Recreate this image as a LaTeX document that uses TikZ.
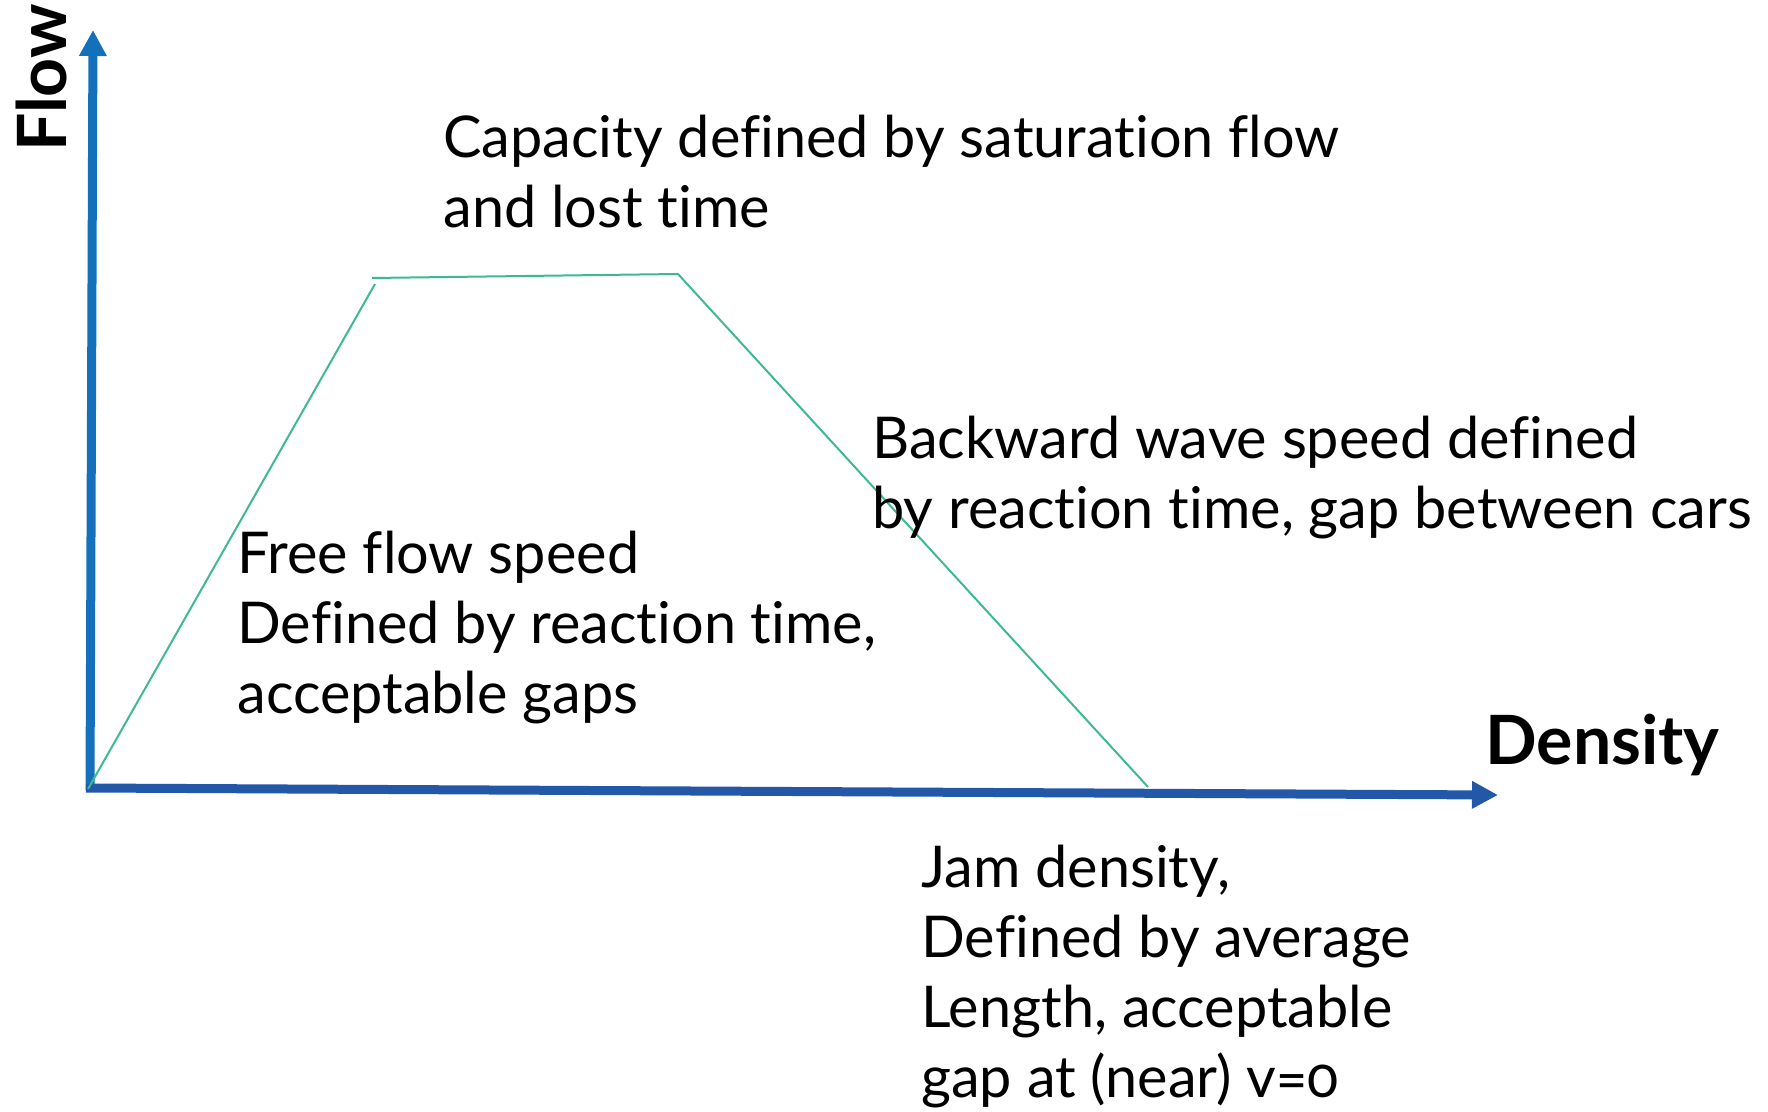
\documentclass[tikz,border=0pt]{standalone}
\usepackage{fontspec}
\setmainfont{Lato}[Numbers=OldStyle,Ligatures=NoCommon]
\usepackage{tikz}
\usetikzlibrary{arrows.meta}
\definecolor{flowblue}{RGB}{20,112,186}
\definecolor{densblue}{RGB}{35,87,168}
\definecolor{curvegreen}{RGB}{62,186,140}

\begin{document}
\begin{tikzpicture}[x=0.5pt,y=-0.5pt,
  axis/.style={line width=4.5pt,-{Triangle[length=13pt,width=13pt]}},
  curve/.style={draw=curvegreen,line width=1pt},
  note/.style={anchor=base west,align=left,inner sep=0pt,font=\fontsize{28.8}{35}\selectfont},
  axislabel/.style={inner sep=0pt,font=\fontsize{34}{40}\selectfont\bfseries}
]
\useasboundingbox (0,0) rectangle (1768,1112);
% axes
\coordinate (O) at (88,789);
\coordinate (ytop) at (93,30);
\coordinate (xend) at (1498,795);
\draw[axis,draw=flowblue,fill=flowblue] (90,790) -- (ytop);
\draw[axis,draw=densblue,fill=densblue] (86,788) -- (xend);
\node[axislabel,rotate=90] (flowlbl) at (41,78) {Flow};
\node[axislabel,anchor=base west] (denslbl) at (1485,764) {Density};
% fundamental diagram
\coordinate (A) at (375,284);
\coordinate (B) at (372,278);
\coordinate (C) at (678,274);
\coordinate (J) at (1148,787);
\draw[curve] (O) -- (A);
\draw[curve] (B) -- (C) -- (J);
% notes (placed at the baseline of their last line)
\node[note] (cap) at (443,228) {Capacity defined by saturation flow\\and lost time};
\node[note] (free) at (237,713) {Free flow speed\\Defined by reaction time,\\acceptable gaps};
\node[note] (back) at (872,529) {Backward wave speed defined\\by reaction time, gap between cars};
\node[note] (jam) at (921,1097) {Jam density,\\Defined by average\\Length, acceptable\\gap at (near) v=0};
\end{tikzpicture}
\end{document}
